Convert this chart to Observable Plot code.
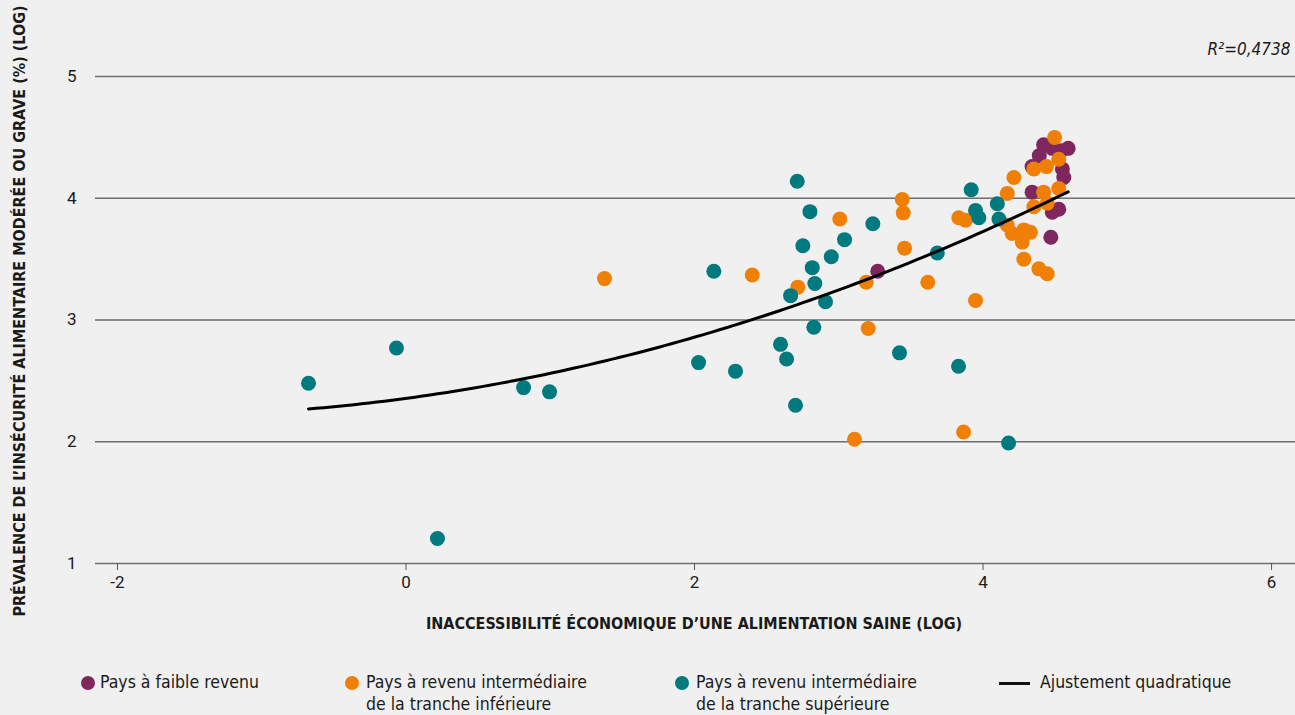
<!DOCTYPE html>
<html><head><meta charset="utf-8">
<script src="https://cdn.jsdelivr.net/npm/d3@7"></script>
<script src="https://cdn.jsdelivr.net/npm/@observablehq/plot@0.6"></script>
<style>
body{margin:0;background:#f0f0f0;}
#wrap{position:relative;width:1295px;height:715px;overflow:hidden;font-family:"Liberation Sans Narrow","DejaVu Sans Condensed","Roboto Condensed",Roboto,sans-serif;color:#1a1a1a;background:#f0f0f0;}
#chart{position:absolute;left:0;top:0;}
#chart svg text{font-size:17px;}
.ttl{position:absolute;font-weight:bold;font-size:16px;white-space:nowrap;transform:translate(-50%,-50%);}
.ytl{transform:translate(-50%,-50%) rotate(-90deg);}
.leg{position:absolute;font-size:17.5px;line-height:22px;white-space:nowrap;}
.sw{position:absolute;width:14px;height:14px;border-radius:50%;}
.ln{position:absolute;width:31px;height:3px;background:#111;}
</style></head>
<body><div id="wrap"><div id="chart"></div></div>
<script>
// ---- data ----
const lowX  = [3.27, 4.47, 4.42, 4.59, 4.48, 4.54, 4.39, 4.34, 4.55, 4.56, 4.34, 4.48, 4.525];
const lowY  = [3.40, 3.68, 4.44, 4.41, 4.41, 4.39, 4.35, 4.26, 4.24, 4.17, 4.05, 3.885, 3.91];
const lmidX = [1.376, 2.40, 2.716, 3.007, 3.19, 3.204, 3.109, 3.44, 3.447, 3.456, 3.617, 3.948, 3.865, 3.832, 3.879,
               4.168, 4.214, 4.168, 4.202, 4.283, 4.329, 4.272, 4.283, 4.387, 4.445, 4.496, 4.525, 4.352, 4.44, 4.42, 4.525, 4.352, 4.445];
const lmidY = [3.34, 3.37, 3.27, 3.83, 3.31, 2.93, 2.02, 3.99, 3.88, 3.59, 3.31, 3.16, 2.08, 3.84, 3.82,
               4.04, 4.17, 3.78, 3.71, 3.74, 3.72, 3.64, 3.50, 3.42, 3.38, 4.50, 4.32, 4.24, 4.26, 4.05, 4.08, 3.93, 3.96];
const umidX = [-0.676, -0.066, 0.218, 0.815, 0.995, 2.028, 2.134, 2.284, 2.712, 2.80, 2.751, 2.816, 2.834, 2.666, 2.908, 2.948,
               3.04, 3.236, 2.596, 2.638, 2.827, 2.70, 3.421, 3.683, 3.83, 4.177, 3.918, 3.948, 3.971, 4.099, 4.11];
const umidY = [2.48, 2.77, 1.205, 2.445, 2.41, 2.65, 3.40, 2.58, 4.14, 3.89, 3.61, 3.43, 3.30, 3.20, 3.15, 3.52,
               3.66, 3.79, 2.80, 2.68, 2.94, 2.30, 2.73, 3.55, 2.62, 1.99, 4.07, 3.90, 3.84, 3.955, 3.83];
const xTicks = [-2, 0, 2, 4, 6];
const yTicks = [1, 2, 3, 4, 5];
const groups = ["Pays à faible revenu", "Pays à revenu intermédiaire de la tranche inférieure", "Pays à revenu intermédiaire de la tranche supérieure"];
const colors = ["#80265f", "#f08005", "#007a7e"];
const r2Label = "R²=0,4738";
const xTitle = "INACCESSIBILITÉ ÉCONOMIQUE D’UNE ALIMENTATION SAINE (LOG)";
const yTitle = "PRÉVALENCE DE L’INSÉCURITÉ ALIMENTAIRE MODÉRÉE OU GRAVE (%) (LOG)";
const fitLabel = "Ajustement quadratique";

// ---- build table ----
const pts = [];
[[lowX, lowY], [lmidX, lmidY], [umidX, umidY]].forEach(([xs, ys], g) =>
  xs.forEach((x, i) => pts.push({x, y: ys[i], g: groups[g]})));

// quadratic least squares fit on all points
function quadFit(data) {
  let S = [[0,0,0],[0,0,0],[0,0,0]], T = [0,0,0];
  for (const d of data) {
    const v = [1, d.x, d.x*d.x];
    for (let i=0;i<3;i++){ T[i]+=v[i]*d.y; for(let j=0;j<3;j++) S[i][j]+=v[i]*v[j]; }
  }
  const A = S.map((row,i)=>[...row, T[i]]);
  for (let i=0;i<3;i++){
    for (let k=i+1;k<3;k++){ const f=A[k][i]/A[i][i]; for(let j=i;j<4;j++) A[k][j]-=f*A[i][j]; }
  }
  const c=[0,0,0];
  for (let i=2;i>=0;i--){ let s=A[i][3]; for(let j=i+1;j<3;j++) s-=A[i][j]*c[j]; c[i]=s/A[i][i]; }
  return c;
}
const coef = quadFit(pts);
const xMin = d3.min(pts, d=>d.x), xMax = d3.max(pts, d=>d.x);
const fit = d3.range(0, 101).map(i => { const x = xMin + (xMax-xMin)*i/100; return {x, y: coef[0]+coef[1]*x+coef[2]*x*x}; });

const chart = Plot.plot({
  width: 1295, height: 650,
  marginLeft: 95, marginRight: 0, marginTop: 20, marginBottom: 87,
  style: {background: "transparent", fontFamily: "Roboto, 'Liberation Sans', sans-serif", fontSize: "17px", color: "#1a1a1a"},
  x: {domain: [-2.1525, 6.166]},
  y: {domain: [1, 5.46]},
  color: {domain: groups, range: colors},
  marks: [
    Plot.ruleY(yTicks, {stroke: "#6e6e6e", strokeWidth: 1.3}),
    Plot.axisY({ticks: yTicks, tickSize: 0, tickPadding: 19, label: null, fontSize: 17, tickFormat: d => String(d)}),
    Plot.axisX({ticks: xTicks, tickSize: 7, tickPadding: 5, label: null, stroke: "#555", fontSize: 17, tickFormat: d => String(d)}),
    Plot.dot(pts, {x: "x", y: "y", fill: "g", r: 7.5}),
    Plot.line(fit, {x: "x", y: "y", stroke: "#000", strokeWidth: 3}),
    Plot.text([r2Label], {frameAnchor: "top-right", dx: -5, dy: 22, textAnchor: "end", fontStyle: "italic", fontSize: 17,
      fontFamily: "'Liberation Sans Narrow','DejaVu Sans Condensed',Roboto,sans-serif"})
  ]
});
document.getElementById("chart").appendChild(chart);

const wrap = document.getElementById("wrap");
function add(html){ wrap.insertAdjacentHTML("beforeend", html); }
add(`<div class="ttl ytl" style="left:19px;top:311px">${yTitle}</div>`);
add(`<div class="ttl" style="left:694px;top:623px">${xTitle}</div>`);
// legend
const legPos = [[88, 100], [352, 366], [682, 696]];
const legText = [["Pays à faible revenu"], ["Pays à revenu intermédiaire", "de la tranche inférieure"], ["Pays à revenu intermédiaire", "de la tranche supérieure"]];
legPos.forEach(([cx, tx], i) => {
  add(`<div class="sw" style="left:${cx-7}px;top:${683-7}px;background:${colors[i]}"></div>`);
  add(`<div class="leg" style="left:${tx}px;top:${671}px">${legText[i].join("<br>")}</div>`);
});
add(`<div class="ln" style="left:999px;top:682px"></div>`);
add(`<div class="leg" style="left:1040px;top:671px">${fitLabel}</div>`);
</script>
</body></html>
